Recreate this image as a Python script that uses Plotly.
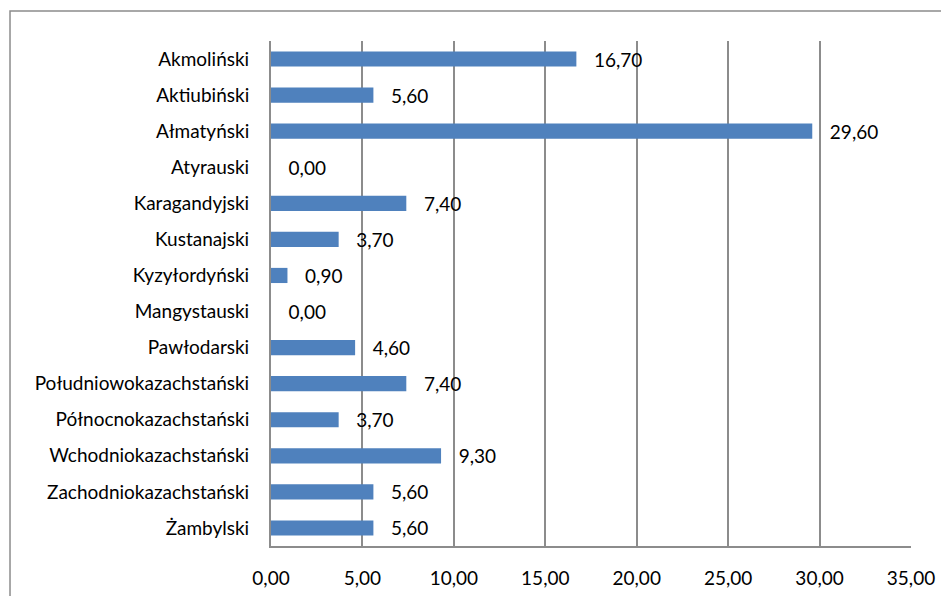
import plotly.graph_objects as go

categories = ["Akmoliński", "Aktiubiński", "Ałmatyński", "Atyrauski", "Karagandyjski",
              "Kustanajski", "Kyzyłordyński", "Mangystauski", "Pawłodarski",
              "Południowokazachstański", "Północnokazachstański", "Wchodniokazachstański",
              "Zachodniokazachstański", "Żambylski"]
values = [16.70, 5.60, 29.60, 0.00, 7.40, 3.70, 0.90, 0.00, 4.60, 7.40, 3.70, 9.30, 5.60, 5.60]
x_ticks = [0, 5, 10, 15, 20, 25, 30, 35]

FONT = "Lato, Open Sans, sans-serif"
FS = 19

fig = go.Figure(go.Bar(
    x=values, y=categories, orientation="h",
    marker=dict(color="#4F81BD", line=dict(width=0)),
    width=0.42,
    texttemplate="   %{x:.2f}", textposition="outside", cliponaxis=False,
    constraintext="none",
    textfont=dict(family=FONT, size=FS, color="#000000"),
))

fig.update_layout(
    width=949, height=596,
    margin=dict(l=263, r=46, t=33, b=58),
    paper_bgcolor="white", plot_bgcolor="white",
    separators=", ",
    showlegend=False,
    font=dict(family=FONT, size=FS, color="#000000"),
    xaxis=dict(range=[0, 35], tickvals=x_ticks, tickformat=".2f",
               showgrid=True, gridcolor="#8C8C8C", gridwidth=1.5,
               showline=True, linecolor="#8C8C8C", linewidth=2,
               zeroline=False, ticks="", ticklabelstandoff=14, automargin=False,
               tickfont=dict(family=FONT, size=FS, color="#000000")),
    yaxis=dict(autorange="reversed", showgrid=False, showline=True,
               linecolor="#8C8C8C", linewidth=2, ticks="", ticklabelstandoff=16,
               automargin=False,
               tickfont=dict(family=FONT, size=FS, color="#000000")),
    shapes=[dict(type="rect", xref="paper", yref="paper",
                 x0=-0.4078, y0=-0.3, x1=1.2, y1=1.0594,
                 line=dict(color="#8C8C8C", width=1.5), layer="below")],
)

fig.write_html("out.html")
